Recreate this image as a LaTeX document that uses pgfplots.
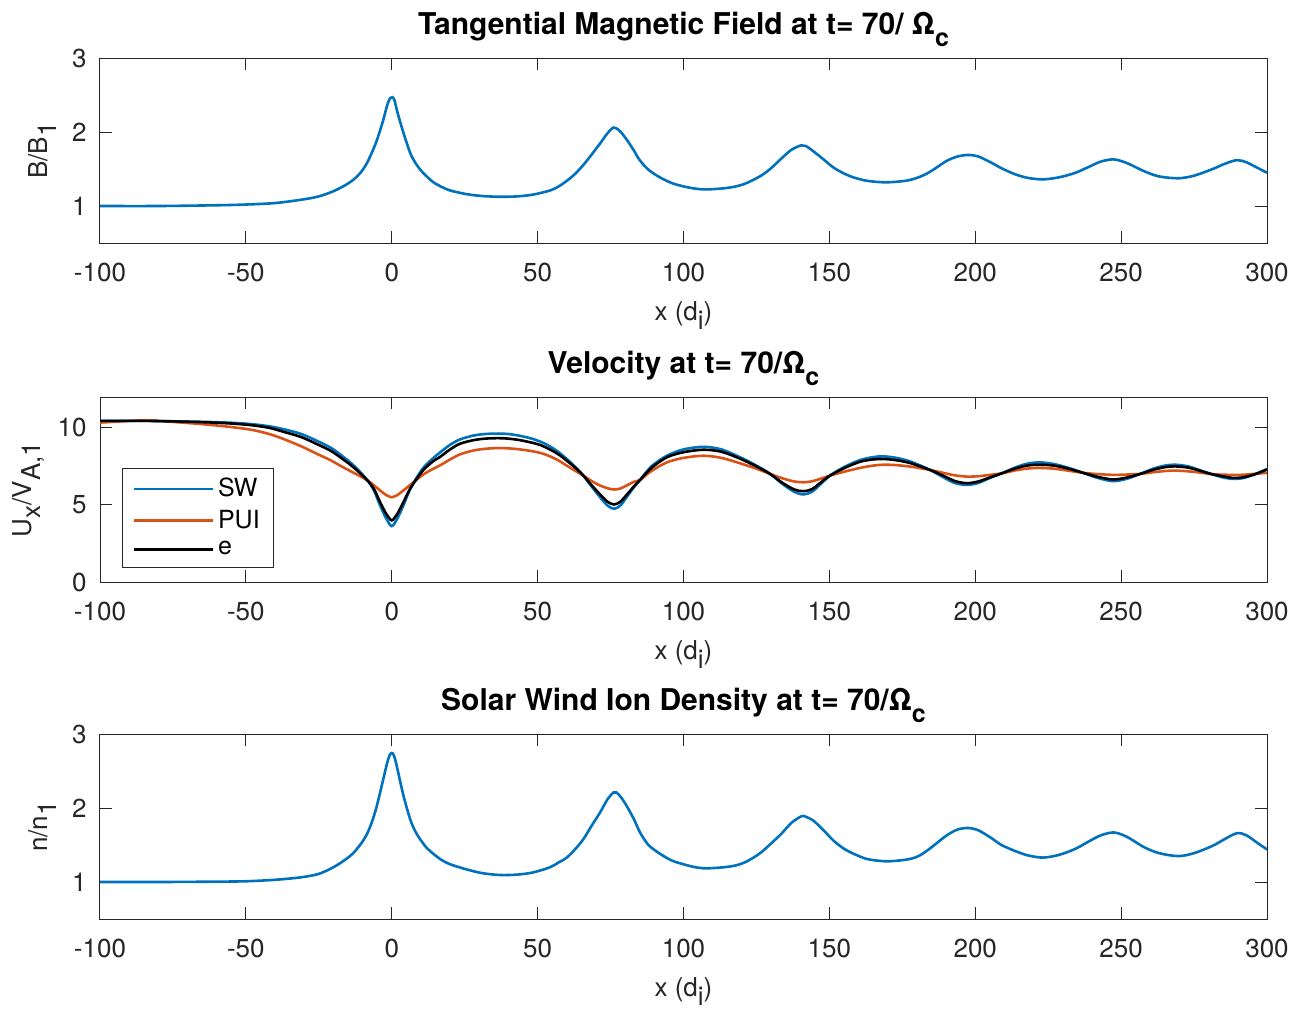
\documentclass[border=0pt]{standalone}
\usepackage{fontspec}
\setmainfont{TeX Gyre Heros}
\usepackage{pgfplots}
\pgfplotsset{compat=1.18}
\definecolor{mblue}{rgb}{0,0.447,0.741}
\definecolor{morange}{rgb}{0.85,0.325,0.098}
\definecolor{axgray}{rgb}{0.15,0.15,0.15}

\pgfplotstableread{
x B
-100 1.00
-80 1.00
-60 1.01
-50 1.02
-40 1.04
-31 1.085
-25 1.13
-20 1.20
-16 1.28
-13 1.36
-10.5 1.46
-8.5 1.58
-6.5 1.75
-5 1.90
-3 2.15
-1.5 2.37
-0.5 2.46
0.3 2.47
1 2.42
2 2.26
4 1.99
6.3 1.72
8 1.59
10 1.48
12 1.40
14.3 1.32
17 1.26
20 1.21
25.7 1.16
31 1.135
37 1.125
43 1.13
48.5 1.155
54.3 1.21
57 1.26
60 1.34
63 1.44
66 1.57
69 1.72
71.5 1.85
73.5 1.96
75 2.03
76 2.06
77 2.05
78.5 2.00
80.5 1.90
83 1.75
85 1.62
88 1.49
92 1.385
96 1.31
100 1.265
104 1.235
108 1.224
114 1.24
118 1.265
121 1.30
124 1.355
127 1.42
130 1.51
133.5 1.64
137 1.76
140.4 1.82
142 1.81
144.5 1.74
148 1.63
151.4 1.52
155 1.44
158.4 1.385
163 1.34
169.4 1.32
176 1.34
180 1.38
183 1.43
186 1.50
190.2 1.61
194 1.67
197.7 1.69
201 1.67
205.3 1.59
209 1.51
213.6 1.43
218 1.38
223.3 1.36
229 1.39
234.4 1.45
239 1.53
243 1.60
247.5 1.63
252 1.58
257.9 1.47
263 1.40
269.6 1.375
275 1.41
281.4 1.50
285.5 1.57
289.7 1.62
293 1.59
297 1.51
300 1.45
}\tabB

\pgfplotstableread{
x n
-100 1.00
-80 1.00
-60 1.005
-50 1.01
-40 1.03
-31 1.064
-25 1.11
-20 1.20
-16 1.30
-13.2 1.39
-10.5 1.52
-8.6 1.64
-6.8 1.81
-5.1 2.03
-2.9 2.39
-1.5 2.62
-0.5 2.73
0.3 2.74
1 2.68
1.7 2.57
4 2.17
6.3 1.85
8 1.69
9.7 1.58
12 1.46
14.3 1.38
17 1.30
20 1.24
25.7 1.17
31 1.12
37 1.095
43 1.10
48.5 1.13
54.3 1.20
57 1.26
60 1.33
63 1.45
65.7 1.58
68.5 1.76
71.4 1.94
74 2.12
76 2.21
77 2.21
78.5 2.15
80.5 2.03
83 1.85
85.1 1.67
88 1.50
92 1.38
96 1.29
100 1.24
104 1.20
107.9 1.185
114 1.20
118 1.225
121 1.265
124 1.33
126.6 1.40
130 1.52
133.5 1.65
137 1.80
140.5 1.89
142 1.88
144.5 1.83
148 1.70
151.4 1.56
155 1.45
158.4 1.38
163 1.31
169.4 1.28
176 1.30
180 1.34
183 1.41
186 1.50
190.2 1.63
194 1.71
197.7 1.73
201 1.70
205.3 1.60
209 1.50
213.6 1.42
218 1.36
223.3 1.33
229 1.37
234.4 1.45
239 1.55
243 1.63
247.5 1.67
252 1.61
257.9 1.47
263 1.39
269.6 1.35
275 1.39
281.4 1.49
285.5 1.58
289.7 1.66
293 1.63
297 1.52
300 1.44
}\tabN

\pgfplotstableread{
x sw e p
-100 10.45 10.45 10.34
-90 10.45 10.45 10.45
-85 10.45 10.45 10.48
-80 10.44 10.44 10.45
-65 10.39 10.37 10.24
-55 10.33 10.28 10.05
-48 10.24 10.17 9.87
-42 10.10 10.00 9.60
-37 9.91 9.74 9.27
-31 9.60 9.40 8.80
-25.7 9.16 8.95 8.32
-21 8.72 8.52 7.90
-17.7 8.28 8.10 7.55
-14 7.72 7.58 7.18
-10.9 7.15 7.07 6.87
-8 6.52 6.52 6.55
-6 5.90 6.00 6.25
-4 4.97 5.18 5.94
-2 4.15 4.45 5.65
-0.5 3.68 4.05 5.52
0 3.63 4.00 5.50
0.5 3.68 4.05 5.52
2 4.15 4.45 5.65
4 4.97 5.18 5.94
6 5.90 5.95 6.25
8 6.60 6.55 6.55
11 7.45 7.30 7.00
14.3 8.05 7.85 7.35
16.6 8.41 8.12 7.57
20 8.90 8.60 7.95
23.4 9.25 8.97 8.28
28 9.50 9.20 8.53
32 9.60 9.30 8.64
36.5 9.63 9.33 8.69
40 9.60 9.30 8.67
44 9.48 9.20 8.60
48 9.30 9.04 8.49
51 9.10 8.88 8.37
54 8.82 8.62 8.17
57 8.45 8.30 7.90
60 7.98 7.87 7.55
63 7.45 7.40 7.20
65.7 6.90 6.90 6.90
68.5 6.20 6.28 6.55
71.4 5.50 5.68 6.26
74 4.95 5.20 6.08
76.2 4.75 5.03 6.00
78.3 4.95 5.20 6.06
80.5 5.50 5.65 6.26
83 6.15 6.20 6.50
85.1 6.62 6.62 6.62
89 7.50 7.40 7.20
94.3 8.19 8.09 7.76
100 8.60 8.42 8.05
106.8 8.77 8.58 8.19
113 8.60 8.45 8.05
119.4 8.09 8.00 7.70
125 7.55 7.50 7.35
129.7 7.01 7.01 7.01
134 6.35 6.42 6.72
138 5.85 6.00 6.52
141.1 5.68 5.89 6.47
144 5.85 6.02 6.53
147 6.35 6.45 6.70
150.2 6.90 6.90 6.90
155 7.45 7.38 7.15
160.5 7.91 7.80 7.40
165 8.10 7.95 7.55
168.5 8.15 7.98 7.61
173 8.05 7.90 7.58
178 7.80 7.70 7.48
184.5 7.27 7.27 7.27
189 6.80 6.90 7.08
193 6.42 6.55 6.92
197.1 6.30 6.41 6.84
201 6.42 6.52 6.86
205 6.75 6.78 6.95
209.1 7.05 7.05 7.05
214 7.45 7.38 7.25
218 7.68 7.56 7.36
222.2 7.76 7.61 7.40
227 7.65 7.55 7.35
232 7.40 7.35 7.22
237 7.08 7.08 7.08
242 6.75 6.82 7.00
247.3 6.54 6.65 6.95
252 6.70 6.78 6.97
256.5 7.01 7.01 7.01
261 7.35 7.28 7.12
265 7.55 7.45 7.20
268.5 7.61 7.50 7.23
273 7.50 7.42 7.18
277 7.25 7.22 7.10
281 7.00 7.00 7.00
285 6.78 6.85 6.96
288.5 6.69 6.75 6.95
292 6.75 6.80 6.96
296 7.00 7.00 7.02
300 7.33 7.30 7.08
}\tabV

\pgfplotsset{
  mystyle/.style={
    scale only axis, width=583.5pt, height=92.5pt,
    xmin=-100, xmax=300,
    xtick={-100,-50,0,50,100,150,200,250,300},
    xticklabels={-100,-50,0,50,100,150,200,250,300},
    tick align=inside,
    major tick length=5.9pt,
    axis line style={axgray, line width=0.5pt},
    every tick/.style={axgray, line width=0.5pt},
    tick label style={font=\fontsize{13}{15}\selectfont, text=axgray, inner sep=0pt},
    xticklabel style={anchor=base, yshift=-19.3pt},
    yticklabel style={anchor=east, xshift=-6.5pt},
    xlabel={x (d\raisebox{-4.5pt}{i})},
    xlabel style={at={(axis description cs:0.5,0)}, anchor=base, yshift=-38.5pt, font=\fontsize{13}{15}\selectfont, text=axgray, inner sep=0pt},
    ylabel style={anchor=base, font=\fontsize{13}{15}\selectfont, text=axgray, inner sep=0pt},
    title style={at={(axis description cs:0.5,1)}, anchor=base, yshift=6pt, font=\bfseries\fontsize{15}{17}\selectfont, inner sep=0pt},
    every axis plot/.append style={line width=1.3pt},
  }
}

\begin{document}
\begin{tikzpicture}
\useasboundingbox (0pt,0pt) rectangle (646pt,-504pt);

\begin{axis}[mystyle, at={(50pt,-121.5pt)}, anchor=south west,
  ymin=0.5, ymax=3, ytick={1,2,3}, yticklabels={1,2,3},
  ylabel={B/B\raisebox{-4.5pt}{1}},
  ylabel style={at={(axis description cs:-0.0454,0.5)}},
  title={Tangential Magnetic Field at t= 70/ Ω\raisebox{-6pt}{\fontsize{12.5}{13}\selectfont c}}]
\addplot[mblue, smooth] table[x=x,y=B] {\tabB};
\end{axis}

\begin{axis}[mystyle, at={(50pt,-291pt)}, anchor=south west,
  ymin=0, ymax=12, ytick={0,5,10}, yticklabels={0,5,10},
  ylabel={U\raisebox{-4.5pt}{x}/V\raisebox{-4.5pt}{A,1}},
  ylabel style={at={(axis description cs:-0.0583,0.5)}},
  title={Velocity at t= 70/Ω\raisebox{-6pt}{\fontsize{12.5}{13}\selectfont c}},
  legend style={at={(rel axis cs:0.0189,0.0757)}, anchor=south west, draw=axgray, fill=white,
    font=\fontsize{12.5}{14}\selectfont, inner xsep=5pt, inner ysep=3pt, row sep=1pt},
  legend cell align=left,
  legend image code/.code={\draw[#1, line width=1.3pt] (0pt,0pt) -- (39.5pt,0pt);}]
\addplot[mblue, smooth] table[x=x,y=sw] {\tabV};
\addlegendentry{SW}
\addplot[morange, smooth] table[x=x,y=p] {\tabV};
\addlegendentry{PUI}
\addplot[black, smooth] table[x=x,y=e] {\tabV};
\addlegendentry{e}
\end{axis}

\begin{axis}[mystyle, at={(50pt,-459.5pt)}, anchor=south west,
  ymin=0.5, ymax=3, ytick={1,2,3}, yticklabels={1,2,3},
  ylabel={n/n\raisebox{-4.5pt}{1}},
  ylabel style={at={(axis description cs:-0.0454,0.5)}},
  title={Solar Wind Ion Density at t= 70/Ω\raisebox{-6pt}{\fontsize{12.5}{13}\selectfont c}}]
\addplot[mblue, smooth] table[x=x,y=n] {\tabN};
\end{axis}
\end{tikzpicture}
\end{document}
